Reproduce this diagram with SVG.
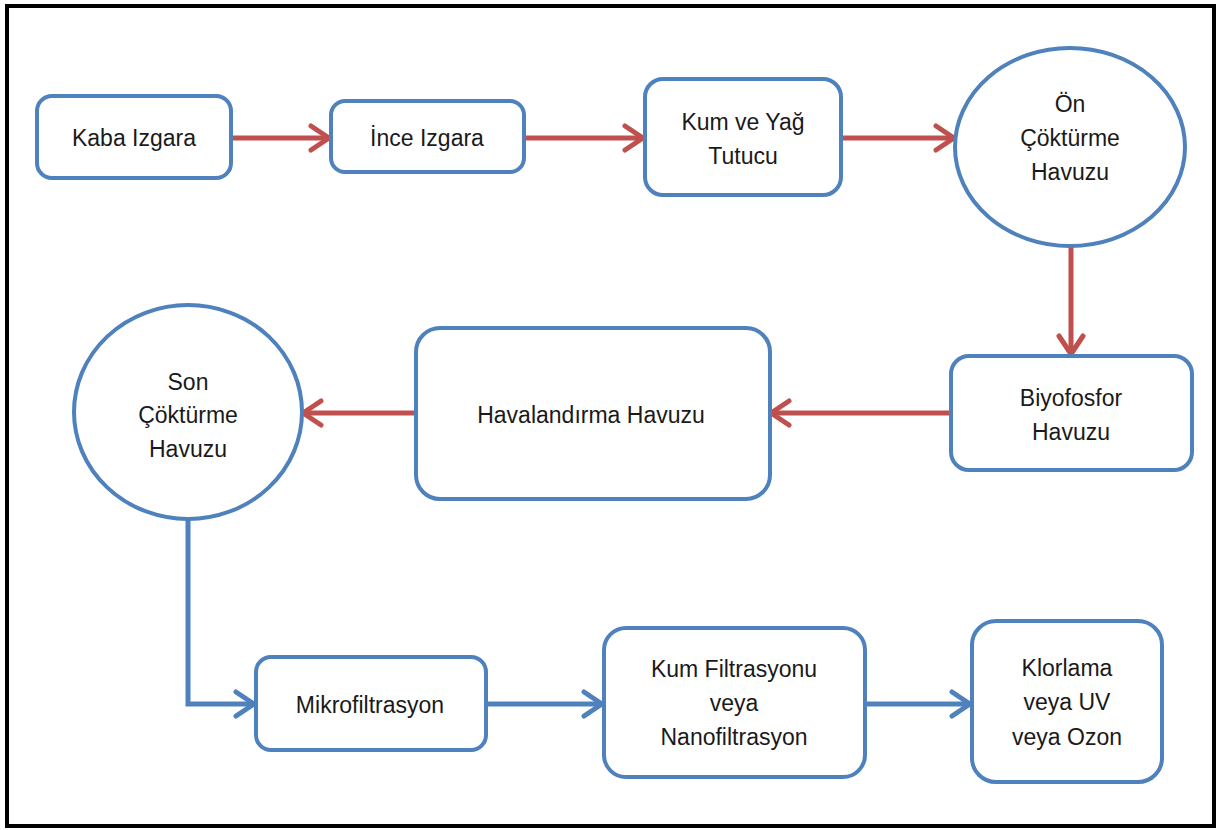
<svg xmlns="http://www.w3.org/2000/svg" width="1219" height="830" viewBox="0 0 1219 830">
<style>
.box{fill:#fff;stroke:#4F81BD;stroke-width:4}
.t{font-family:"Liberation Sans",Arial,sans-serif;font-size:23px;fill:#1a1a1a;text-anchor:middle}
.red{fill:none;stroke:#C0504D;stroke-width:5}
.blue{fill:none;stroke:#4F81BD;stroke-width:5}
</style>
<defs>
<marker id="ar" viewBox="-4 -16 28 32" refX="20" refY="0" markerWidth="28" markerHeight="32" markerUnits="userSpaceOnUse" orient="auto">
<path d="M2,-12 L20,0 L2,12" fill="none" stroke="#C0504D" stroke-width="5" stroke-linecap="round" stroke-linejoin="round"/>
</marker>
<marker id="ab" viewBox="-4 -16 28 32" refX="20" refY="0" markerWidth="28" markerHeight="32" markerUnits="userSpaceOnUse" orient="auto">
<path d="M2,-12 L20,0 L2,12" fill="none" stroke="#4F81BD" stroke-width="5" stroke-linecap="round" stroke-linejoin="round"/>
</marker>
</defs>
<rect x="0" y="0" width="1219" height="830" fill="#fff"/>
<rect x="7" y="6" width="1207" height="820" fill="none" stroke="#000" stroke-width="4"/>
<g id="connectors">
<line class="red" x1="231" y1="138" x2="329" y2="138" marker-end="url(#ar)"/>
<line class="red" x1="524" y1="138" x2="643" y2="138" marker-end="url(#ar)"/>
<line class="red" x1="841" y1="138" x2="954" y2="138" marker-end="url(#ar)"/>
<line class="red" x1="1071" y1="247" x2="1071" y2="354" marker-end="url(#ar)"/>
<line class="red" x1="950" y1="413" x2="771" y2="413" marker-end="url(#ar)"/>
<line class="red" x1="415" y1="413" x2="303" y2="413" marker-end="url(#ar)"/>
<polyline class="blue" points="188,520 188,704 254,704" marker-end="url(#ab)"/>
<line class="blue" x1="486" y1="704" x2="602" y2="704" marker-end="url(#ab)"/>
<line class="blue" x1="865" y1="704" x2="970" y2="704" marker-end="url(#ab)"/>
</g>
<g id="kaba">
<rect class="box" x="37" y="96" width="194" height="82" rx="15"/>
<text class="t" x="134" y="146">Kaba Izgara</text>
</g>
<g id="ince">
<rect class="box" x="331" y="101" width="193" height="71" rx="14"/>
<text class="t" x="427" y="146">İnce Izgara</text>
</g>
<g id="kumyag">
<rect class="box" x="645" y="79" width="196" height="116" rx="18"/>
<text class="t" x="743" y="130">Kum ve Yağ</text>
<text class="t" x="743" y="164">Tutucu</text>
</g>
<g id="on">
<ellipse class="box" cx="1070" cy="147" rx="115" ry="99"/>
<text class="t" x="1070" y="112">Ön</text>
<text class="t" x="1070" y="146">Çöktürme</text>
<text class="t" x="1070" y="180">Havuzu</text>
</g>
<g id="biyo">
<rect class="box" x="951" y="356" width="241" height="114" rx="18"/>
<text class="t" x="1071" y="406">Biyofosfor</text>
<text class="t" x="1071" y="440">Havuzu</text>
</g>
<g id="hava">
<rect class="box" x="416" y="328" width="354" height="171" rx="24"/>
<text class="t" x="591" y="423">Havalandırma Havuzu</text>
</g>
<g id="son">
<ellipse class="box" cx="188" cy="412" rx="114" ry="107"/>
<text class="t" x="188" y="390">Son</text>
<text class="t" x="188" y="423">Çöktürme</text>
<text class="t" x="188" y="457">Havuzu</text>
</g>
<g id="mikro">
<rect class="box" x="256" y="657" width="230" height="93" rx="15"/>
<text class="t" x="370" y="713">Mikrofiltrasyon</text>
</g>
<g id="kumfil">
<rect class="box" x="604" y="628" width="261" height="149" rx="22"/>
<text class="t" x="734" y="677">Kum Filtrasyonu</text>
<text class="t" x="734" y="711">veya</text>
<text class="t" x="734" y="745">Nanofiltrasyon</text>
</g>
<g id="klor">
<rect class="box" x="972" y="621" width="190" height="161" rx="24"/>
<text class="t" x="1067" y="676">Klorlama</text>
<text class="t" x="1067" y="710">veya UV</text>
<text class="t" x="1067" y="745">veya Ozon</text>
</g>
</svg>
